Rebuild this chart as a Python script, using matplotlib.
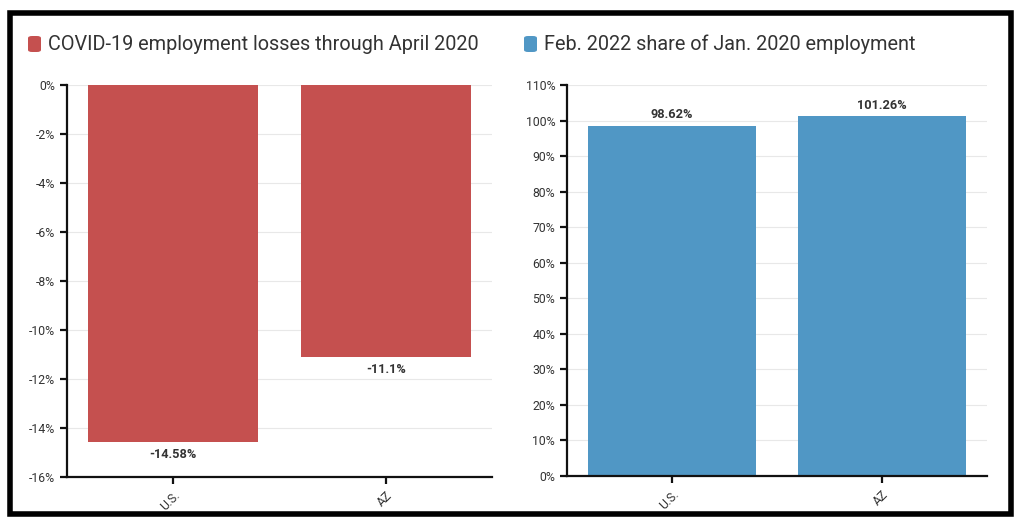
import matplotlib
matplotlib.use("Agg")
import matplotlib.pyplot as plt
from matplotlib.patches import Rectangle, FancyBboxPatch
from matplotlib.ticker import FuncFormatter

plt.rcParams['font.family'] = ['Roboto', 'DejaVu Sans']

categories = ["U.S.", "AZ"]
losses = [-14.58, -11.1]
loss_labels = ["-14.58%", "-11.1%"]
share = [98.62, 101.26]
share_labels = ["98.62%", "101.26%"]
left_title = "COVID-19 employment losses through April 2020"
right_title = "Feb. 2022 share of Jan. 2020 employment"
left_ticks = [0, -2, -4, -6, -8, -10, -12, -14, -16]
right_ticks = [0, 10, 20, 30, 40, 50, 60, 70, 80, 90, 100, 110]

RED = "#c5504f"
BLUE = "#5097c5"
TXT = "#333333"

fig = plt.figure(figsize=(10.24, 5.31), dpi=100)

def style(ax, ticks):
    ax.set_yticks(ticks)
    ax.yaxis.set_major_formatter(FuncFormatter(lambda v, p: f"{v:g}%"))
    ax.grid(axis='y', color='#e8e8e8', linewidth=0.8)
    ax.set_axisbelow(True)
    for s in ['top', 'right']:
        ax.spines[s].set_visible(False)
    for s in ['left', 'bottom']:
        ax.spines[s].set_linewidth(1.6)
        ax.spines[s].set_color('#111111')
    ax.tick_params(axis='both', labelsize=8.8, labelcolor=TXT, width=1.6, length=5, color='#111111')
    ax.set_xlim(-0.5, 1.5)
    ax.set_xticks(range(len(categories)))
    ax.set_xticklabels(categories, rotation=45, ha='right', rotation_mode='anchor')

ax1 = fig.add_axes([0.0654, 0.1017, 0.415, 0.738])
ax1.bar(range(len(categories)), losses, width=0.8, color=RED)
ax1.set_ylim(-16, 0)
style(ax1, left_ticks)
for i, (v, lab) in enumerate(zip(losses, loss_labels)):
    ax1.annotate(lab, (i, v), xytext=(0, -4), textcoords='offset points',
                 ha='center', va='top', fontsize=9.2, fontweight='bold', color=TXT)

ax2 = fig.add_axes([0.5537, 0.1036, 0.410, 0.736])
ax2.bar(range(len(categories)), share, width=0.8, color=BLUE)
ax2.set_ylim(0, 110)
style(ax2, right_ticks)
for i, (v, lab) in enumerate(zip(share, share_labels)):
    ax2.annotate(lab, (i, v), xytext=(0, 3), textcoords='offset points',
                 ha='center', va='bottom', fontsize=9.2, fontweight='bold', color=TXT)

def title(xpx, color, text):
    W, H = 1024, 531
    sq = FancyBboxPatch((xpx / W, 1 - 52 / H), 13 / W, 16 / H,
                        boxstyle="round,pad=0,rounding_size=0.004",
                        transform=fig.transFigure, facecolor=color, edgecolor='none')
    fig.patches.append(sq)
    fig.text((xpx + 20) / W, 1 - 44 / H, text, fontsize=14.3, color=TXT,
             ha='left', va='center')

title(28, RED, left_title)
title(524, BLUE, right_title)

frame = Rectangle((0.01025, 0.0311), 0.9775, 0.9444, transform=fig.transFigure,
                  fill=False, edgecolor='black', linewidth=4)
fig.patches.append(frame)

fig.savefig("out.png", dpi=100)
